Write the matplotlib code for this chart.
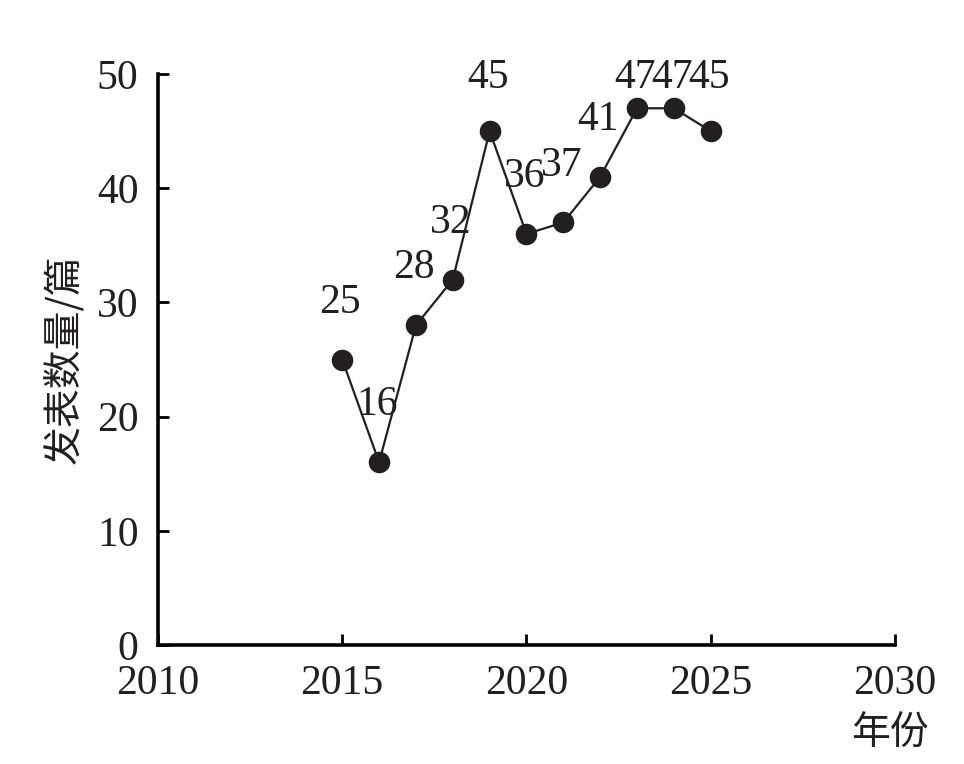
import matplotlib
matplotlib.use('Agg')
import matplotlib.pyplot as plt

years = [2015, 2016, 2017, 2018, 2019, 2020, 2021, 2022, 2023, 2024, 2025]
counts = [25, 16, 28, 32, 45, 36, 37, 41, 47, 47, 45]
xticks = [2010, 2015, 2020, 2025, 2030]
yticks = [0, 10, 20, 30, 40, 50]

ink = '#231f20'
plt.rcParams['font.family'] = ['Liberation Serif', 'Noto Sans CJK SC']

fig = plt.figure(figsize=(9.64, 7.64), dpi=100)
ax = fig.add_axes([0.1639, 0.1558, 0.7645, 0.7473])

ax.plot(years, counts, color=ink, lw=1.6, marker='o', ms=14.5,
        mfc=ink, mec=ink, clip_on=False, zorder=3)

for x, y in zip(years, counts):
    ty = min(y + 5.0, 49.7)
    ax.text(x - 0.05, ty, str(y), ha='center', va='center',
            fontsize=30, color=ink, clip_on=False)

ax.set_xlim(2010, 2030)
ax.set_ylim(0, 50)
ax.set_xticks(xticks)
ax.set_yticks(yticks)
for s in ['top', 'right']:
    ax.spines[s].set_visible(False)
for s in ['left', 'bottom']:
    ax.spines[s].set_linewidth(2.6)
    ax.spines[s].set_color('black')
ax.tick_params(direction='in', length=8, width=2, labelsize=30,
               labelcolor=ink)
ax.tick_params(axis='x', pad=14)
ax.tick_params(axis='y', pad=14)

ax.set_ylabel('发表数量/篇', fontsize=28, color=ink,
              family=['Noto Sans CJK SC', 'Liberation Serif'], labelpad=8)
fig.text(0.923, 0.040, '年份', fontsize=28, color=ink, ha='center',
         va='center', family=['Noto Sans CJK SC'])

fig.savefig('out.png', dpi=100)
